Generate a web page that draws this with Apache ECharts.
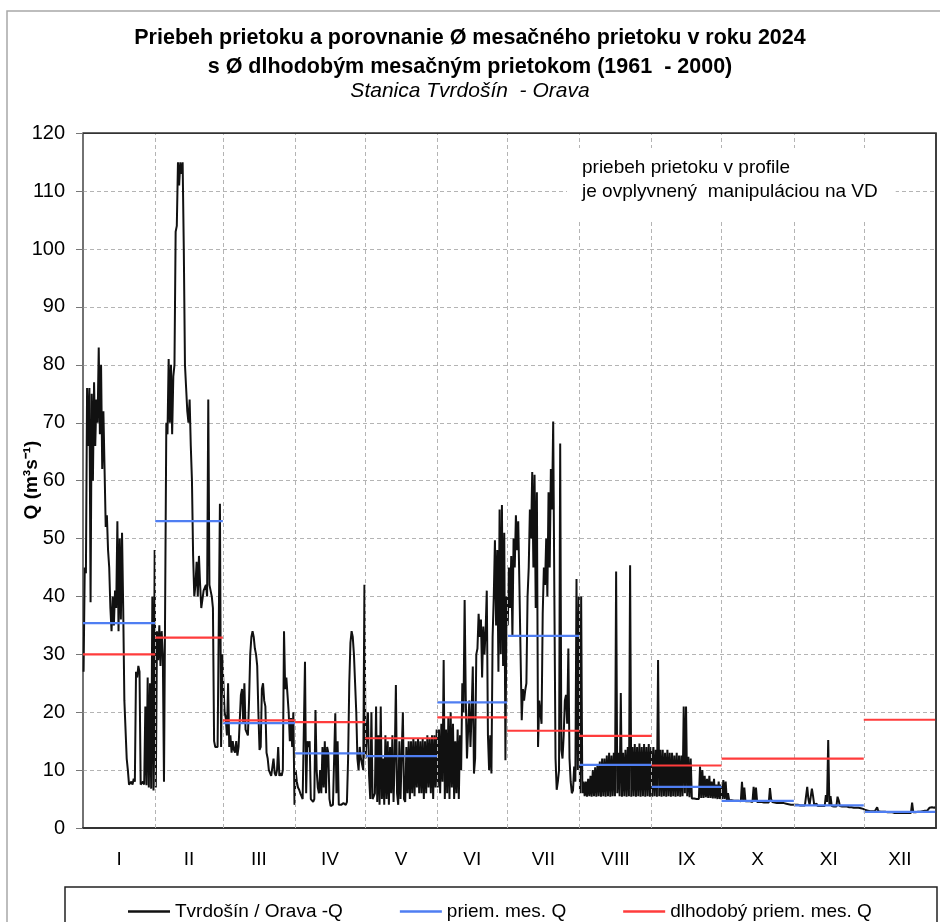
<!DOCTYPE html>
<html>
<head>
<meta charset="utf-8">
<script src="https://cdn.jsdelivr.net/npm/echarts@6/dist/echarts.min.js"></script>
<style>html,body{margin:0;padding:0;background:#fff}#c{width:940px;height:922px}</style>
</head>
<body>
<div id="c"></div>
<script>
// ---- data ----
const monthLabels = ['I','II','III','IV','V','VI','VII','VIII','IX','X','XI','XII'];
const monthDays = [31,29,31,30,31,30,31,31,30,31,30,31];
const avgQ2024 = [35.4, 53.0, 18.1, 12.9, 12.4, 21.7, 33.2, 10.9, 7.1, 4.7, 3.9, 2.8];
const longTermQ = [30.0, 32.9, 18.6, 18.3, 15.5, 19.1, 16.8, 15.9, 10.8, 12.0, 12.0, 18.7];
// daily flow readings [first half of day, second half of day], m3/s
const qJan = [[27,45],[44,76],[66,76],[39,75],[60,77],[66,74],[70,83],[68,80],[62,72],[62,52],[54,48],[45,38],[34,40],[35,41],[38,53],[34,50],[36,51],[38,22],[22,12],[10,7.5],[7.2,8],[7.5,8.5],[8,27],[26,28],[27,7.5],[7.3,8],[7.5,21],[7.4,26],[7,25],[6.8,40],[6.5,48]];
const qFeb = [[7,34],[29,35],[28,34],[30,8],[8,70],[68,81],[70,80],[68,78],[80,103],[104,115],[111,115],[113,115],[100,80],[76,72],[70,74],[66,60],[47,40],[42,46],[40,47],[42,38],[38,41],[41,42],[40,74],[42,41],[40,38],[15,14],[14,14],[14,56],[14,30]];
const qMar = [[30,20],[19,16],[25,14],[16,13],[15,13.5],[13,15],[12.5,14],[14,23],[24,18],[25,17],[17,16],[22,30],[33,34],[33,31],[30,28],[20,13.5],[14,24],[25,22],[21,13],[12,10],[10,9],[9,12],[9.5,9],[10,14],[9,9.5],[9,10],[34,24],[26,23],[20,15],[19,14],[20,4]];
const qApr = [[10,8],[7,6.6],[6,5.5],[5,4.8],[28.7,6],[15,14],[15,5],[4.8,4.5],[5,20.4],[10,7],[6,10],[6,14],[7,15],[6,14],[13,5],[3.8,3.7],[4,3.8],[19.8,6],[15,4],[4.2,4],[4,4.3],[4.2,4],[4.5,12],[25,32],[34,33],[30,25],[20,12],[10,14],[12,11],[10,42]];
const qMay = [[12,16],[20,9],[5,20],[5,4.8],[6,21],[4.5,16],[4,21],[5,12],[4,16],[5,15],[4,14],[6,16],[4.5,12],[24.7,6],[4,15],[5,13],[20,5],[4.5,14],[6,15],[5,15],[6,15.5],[5.5,15],[7,15.5],[6,15],[6,15.5],[5,15],[6,16],[7,15.5],[6,16],[5,16],[7,17]];
const qJun = [[7,17],[6,18],[8,29],[5,17],[6,19],[5,20],[7,18],[5,15],[6,17],[5,16],[10,25],[20,39.4],[22,12],[11.7,22],[14,20],[27.9,9.4],[12,30],[31,37],[33,36],[26,34.8],[30,34],[41,16],[10,16],[9.4,33],[40,49.7],[35,48],[27,55],[30,55.8],[28,51],[11.7,40]];
const qJul = [[35,45],[38,47],[33,50],[45,54],[48,53],[42,30],[18.6,24],[22,23.8],[25,40],[45,55],[50,61.5],[45,61],[38,58],[14,22],[22,18],[37,45],[42,50],[40,58],[45,62],[55,70.2],[40,12],[6.6,8],[10,66.4],[13.5,12],[16,22],[23,18],[31,12],[8,6],[6.5,10.6],[8,43],[10,40]];
const qAug = [[6,40],[6,8],[5.5,8],[5.4,8.5],[5.5,9],[5.4,10],[5.5,10.5],[5.4,11],[5.5,11.5],[5.4,12],[5.5,12],[5.4,12.5],[5.5,13],[5.4,12.5],[5.5,13],[5.5,44.3],[6,13],[5.5,23.3],[5.4,13],[5.5,13.5],[5.4,14],[5.5,45.4],[5.4,14],[5.5,14.5],[5.4,14],[5.5,14.6],[5.4,14],[5.5,14.5],[5.4,14],[5.5,14.5],[5.4,14]];
const qSep = [[5.4,14],[5.5,13.5],[5.4,29],[5.5,13.5],[5.4,13.5],[5.5,13],[5.4,13.5],[5.5,13],[5.4,13],[5.5,12.5],[5.4,13],[5.5,12.5],[5.4,12.5],[5.5,21],[6,21],[5.5,12.3],[5.3,12],[5.1,5.1],[5.1,5.0],[5.0,5.1],[5.0,10.6],[5.2,10],[5.2,9],[5.3,8.5],[5.2,9],[5.2,8],[5.1,8.5],[5.1,7.5],[5.0,8],[5.0,7.5]];
const qOct = [[5,8.3],[5,8],[4.8,6],[4.8,4.8],[4.8,4.7],[4.7,4.8],[4.7,4.7],[4.7,4.6],[4.6,8],[4.7,7],[4.6,4.6],[4.6,4.6],[4.6,4.5],[4.5,7.1],[4.6,7],[4.5,4.5],[4.5,4.5],[4.5,4.4],[4.4,4.5],[4.4,4.4],[4.4,6.9],[5,4.5],[4.4,4.4],[4.4,4.3],[4.3,4.3],[4.3,4.3],[4.2,4.3],[4.2,4.2],[4.1,4.1],[4.1,4.0],[4.0,4.0]];
const qNov = [[4.0,4.0],[3.9,4.0],[3.9,3.9],[3.9,3.9],[3.9,3.9],[3.9,7.1],[5,4],[3.9,6.8],[5.5,4],[3.9,4.2],[3.8,3.8],[3.8,3.8],[3.8,3.9],[3.8,5.7],[4.5,15.2],[4,5.5],[3.8,3.8],[3.7,3.8],[3.7,5.4],[4.8,3.8],[3.7,3.7],[3.7,3.7],[3.6,3.7],[3.6,3.6],[3.6,3.6],[3.6,3.5],[3.5,3.5],[3.5,3.5],[3.4,3.4],[3.3,3.3]];
const qDec = [[3.2,3.1],[3.0,3.0],[3.0,2.9],[2.9,2.9],[2.9,2.9],[2.9,3.6],[2.9,2.8],[2.8,2.8],[2.8,2.8],[2.8,2.7],[2.7,2.7],[2.7,2.7],[2.7,2.6],[2.6,2.6],[2.6,2.6],[2.6,2.6],[2.6,2.6],[2.6,2.6],[2.6,2.6],[2.6,2.6],[2.6,4.4],[2.7,2.7],[2.7,2.7],[2.8,2.8],[2.8,2.8],[2.9,2.9],[3.0,3.0],[3.0,3.1],[3.5,3.5],[3.6,3.5],[3.5,3.6]];
const yTicks = [0,10,20,30,40,50,60,70,80,90,100,110,120];

// ---- build series from the arrays ----
const dailyQ = [qJan,qFeb,qMar,qApr,qMay,qJun,qJul,qAug,qSep,qOct,qNov,qDec];
const monthStart = [];
let acc = 0;
monthDays.forEach(n => { monthStart.push(acc); acc += n; });
const yearDays = acc;
const monthMid = monthStart.map((s,i) => s + monthDays[i]/2);
const flowData = [];
dailyQ.forEach((arr, m) => {
  arr.forEach((p, i) => {
    flowData.push([monthStart[m] + i + 0.25, p[0]]);
    flowData.push([monthStart[m] + i + 0.75, p[1]]);
  });
});
function segments(vals) {
  const out = [];
  vals.forEach((v, m) => {
    const s = monthStart[m], e = s + monthDays[m];
    out.push([s, v]); out.push([e, v]); out.push([e, '-']);
  });
  return out;
}
const boundaries = monthStart.slice(1).map(d => ({ xAxis: d }));

const FONT = '"Liberation Sans", Arial, sans-serif';
const chart = echarts.init(document.getElementById('c'), null, { renderer: 'canvas' });
chart.setOption({
  animation: false,
  backgroundColor: '#fff',
  title: {
    text: 'Priebeh prietoku a porovnanie Ø mesačného prietoku v roku 2024\ns Ø dlhodobým mesačným prietokom (1961  - 2000)',
    subtext: 'Stanica Tvrdošín  - Orava',
    left: 'center',
    top: 19,
    itemGap: -3,
    textStyle: { fontFamily: FONT, fontSize: 21.5, fontWeight: 'bold', color: '#000', lineHeight: 29 },
    subtextStyle: { fontFamily: FONT, fontSize: 21, fontStyle: 'italic', color: '#000', lineHeight: 24 }
  },
  grid: { left: 83, right: 4, top: 133.3, bottom: 94, show: true, borderColor: '#333', borderWidth: 1.5, backgroundColor: 'transparent' },
  legend: {
    data: ['Tvrdošín / Orava -Q', 'priem. mes. Q', 'dlhodobý priem. mes. Q'],
    left: 123, top: 897,
    icon: 'rect',
    itemWidth: 42, itemHeight: 2.5, itemGap: 57,
    textStyle: { fontFamily: FONT, fontSize: 19, color: '#000' }
  },
  xAxis: {
    type: 'value', min: 0, max: yearDays,
    axisLine: { show: true, lineStyle: { color: '#333', width: 2 } },
    axisTick: { show: false },
    splitLine: { show: false },
    axisLabel: {
      customValues: monthMid,
      margin: 22,
      fontFamily: FONT, fontSize: 19, color: '#000',
      formatter: v => monthLabels[monthMid.indexOf(v)] || ''
    }
  },
  yAxis: {
    type: 'value', min: 0, max: 120, interval: 10,
    axisLine: { show: true, lineStyle: { color: '#777', width: 1.5 } },
    axisTick: { show: true, inside: false, length: 7, lineStyle: { color: '#777' } },
    axisLabel: { margin: 18, fontFamily: FONT, fontSize: 20, color: '#000',
      customValues: yTicks },
    splitLine: { show: true, lineStyle: { color: '#b4b4b4', type: [4, 3], width: 1 } }
  },
  series: [
    {
      name: 'grid-months', type: 'line', data: [], z: 1, silent: true,
      markLine: {
        symbol: 'none', silent: true, label: { show: false },
        lineStyle: { color: '#b4b4b4', type: [4, 3], width: 1 },
        data: boundaries
      }
    },
    {
      name: 'Tvrdošín / Orava -Q', type: 'line', data: flowData, z: 3,
      symbol: 'none', showSymbol: false,
      lineStyle: { color: '#111', width: 2 }, itemStyle: { color: '#111' }
    },
    {
      name: 'priem. mes. Q', type: 'line', data: segments(avgQ2024), z: 4,
      symbol: 'none', connectNulls: false,
      lineStyle: { color: '#4f7ef2', width: 2.2 }, itemStyle: { color: '#4f7ef2' }
    },
    {
      name: 'dlhodobý priem. mes. Q', type: 'line', data: segments(longTermQ), z: 5,
      symbol: 'none', connectNulls: false,
      lineStyle: { color: '#ff3c3c', width: 2.2 }, itemStyle: { color: '#ff3c3c' }
    }
  ],
  graphic: [
    { type: 'rect', z: -10, silent: true, shape: { x: 7, y: 11, width: 1000, height: 1000 },
      style: { fill: 'none', stroke: '#a8a8a8', lineWidth: 1.5 } },
    { type: 'rect', z: 0, silent: true, shape: { x: 65, y: 887, width: 872, height: 60 },
      style: { fill: 'none', stroke: '#222', lineWidth: 1.5 } },
    { type: 'polyline', z: 60, silent: true, shape: { points: [[83, 133.3], [936, 133.3], [936, 828]] },
      style: { fill: 'none', stroke: '#333', lineWidth: 1.5 } },
    { type: 'text', z: 50, silent: true, left: 567, top: 148,
      style: { text: 'priebeh prietoku v profile\nje ovplyvnený  manipuláciou na VD',
        font: '19px ' + FONT, fill: '#000', lineHeight: 24,
        backgroundColor: '#fff', padding: [8, 18, 18, 15] } },
    { type: 'text', z: 50, silent: true, x: 32, y: 480, rotation: Math.PI / 2,
      style: { text: 'Q (m³s⁻¹)', font: 'bold 19px ' + FONT, fill: '#000',
        align: 'center', verticalAlign: 'middle' } }
  ]
});
</script>
</body>
</html>
